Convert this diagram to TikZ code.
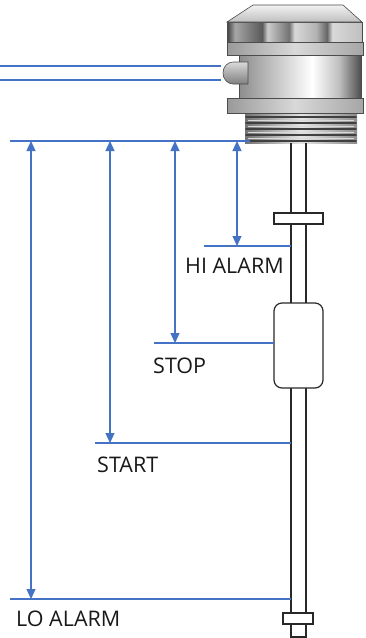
\documentclass[tikz,border=0pt]{standalone}
\usepackage{fontspec}
\setmainfont{Open Sans}
\usetikzlibrary{arrows.meta}
\definecolor{lvl}{RGB}{68,114,196}
\definecolor{rodc}{RGB}{40,40,40}
\pgfdeclarehorizontalshading{metalbody}{100bp}{color(0bp)=(black!45); color(25bp)=(black!45); color(35bp)=(black!30); color(55bp)=(white); color(66bp)=(black!25); color(75bp)=(black!70); color(100bp)=(black!70)}
\pgfdeclarehorizontalshading{metalcap}{100bp}{color(0bp)=(black!75); color(25bp)=(black!75); color(28bp)=(black!35); color(38bp)=(black!65); color(40bp)=(black!20); color(48bp)=(black!55); color(50bp)=(black!15); color(58bp)=(black!30); color(62bp)=(black!60); color(64bp)=(black!15); color(75bp)=(black!25); color(100bp)=(black!25)}
\pgfdeclarehorizontalshading{metalring}{100bp}{color(0bp)=(black!40); color(25bp)=(black!40); color(50bp)=(black!15); color(75bp)=(black!35); color(100bp)=(black!35)}
\pgfdeclarehorizontalshading{metalthread}{100bp}{color(0bp)=(black!55); color(25bp)=(black!55); color(50bp)=(black!10); color(75bp)=(black!45); color(100bp)=(black!45)}
\tikzset{
  level line/.style={draw=lvl, line width=1.2pt},
  dim arrow/.style={draw=lvl, line width=1.2pt, {Triangle[width=9pt,length=10pt]}-{Triangle[width=9pt,length=10pt]}},
  rodline/.style={draw=rodc, line width=1.3pt},
  part/.style={draw=rodc, line width=1.2pt, fill=white},
  lbl/.style={font=\fontsize{21.5}{25}\selectfont, inner sep=0pt, anchor=base west, text=black!90},
  edge/.style={draw=black!70, line width=0.6pt}
}
\begin{document}
\begin{tikzpicture}[x=1pt,y=-1pt]
\useasboundingbox (0,0) rectangle (365,638);
% ---- housing ----
% threads
\shade[shading=metalthread] (245,113) rectangle (357,143);
\foreach \yy in {117,123,129,135,141}
  \draw[black!75, line width=1.6pt, line cap=round] (246,\yy) -- (356,\yy);
\foreach \yy in {120,126,132,138}
  \draw[white!85!black, line width=1pt] (248,\yy) -- (354,\yy);
% lower ring
\shade[shading=metalring, edge] (227,98) rectangle (363,113);
% body
\shade[shading=metalbody, edge] (239,55) rectangle (361,98);
% gland
\shade[top color=black!15, bottom color=black!50, edge] (248,62) -- (233,62) arc[start angle=270, end angle=90, x radius=10, y radius=11] -- (248,84) -- cycle;
% upper ring
\shade[shading=metalring, edge] (227,42) rectangle (363,55);
% cap body
\shade[shading=metalcap, edge] (227,22) rectangle (362,42);
% cap top
\shade[top color=black!5, bottom color=black!25, edge] (253,5) -- (343,5) -- (362,22) -- (227,22) -- cycle;
% ---- cable lines ----
\coordinate (c1a) at (0,66);  \coordinate (c1b) at (221,66);
\coordinate (c2a) at (0,80);  \coordinate (c2b) at (221,80);
\draw[level line] (c1a) -- (c1b);
\draw[level line] (c2a) -- (c2b);
% ---- rod ----
\coordinate (rl1) at (291,143); \coordinate (rl2) at (291,624);
\coordinate (rr1) at (306,143); \coordinate (rr2) at (306,624);
\draw[rodline] (rl1) -- (rl2);
\draw[rodline] (rr1) -- (rr2);
\draw[part] (291,624) rectangle (306,637);
% collars and float
\draw[part] (274,213) rectangle (323,224);
\draw[part, rounded corners=8pt] (274,303) rectangle (323,388);
\draw[part] (283,613) rectangle (313,624);
% ---- level lines ----
\coordinate (refL) at (10,141);  \coordinate (refR) at (250,141);
\coordinate (hiL) at (204,246);  \coordinate (hiR) at (291,246);
\coordinate (stL) at (154,343);  \coordinate (stR) at (274,343);
\coordinate (saL) at (95,443);   \coordinate (saR) at (291,443);
\coordinate (loL) at (10,599);   \coordinate (loR) at (291,599);
\draw[level line] (refL) -- (refR);
\draw[level line] (hiL) -- (hiR);
\draw[level line] (stL) -- (stR);
\draw[level line] (saL) -- (saR);
\draw[level line] (loL) -- (loR);
% ---- dimension arrows ----
\coordinate (a1t) at (237,141); \coordinate (a1b) at (237,246);
\coordinate (a2t) at (175,141); \coordinate (a2b) at (175,343);
\coordinate (a3t) at (110,141); \coordinate (a3b) at (110,443);
\coordinate (a4t) at (31,141);  \coordinate (a4b) at (31,599);
\draw[dim arrow] (a1t) -- (a1b);
\draw[dim arrow] (a2t) -- (a2b);
\draw[dim arrow] (a3t) -- (a3b);
\draw[dim arrow] (a4t) -- (a4b);
% ---- labels ----
\node[lbl] (hi) at (185,273) {HI ALARM};
\node[lbl] (stop) at (153,373) {STOP};
\node[lbl] (start) at (97,472) {START};
\node[lbl] (lo) at (16,626) {LO ALARM};
\end{tikzpicture}
\end{document}
